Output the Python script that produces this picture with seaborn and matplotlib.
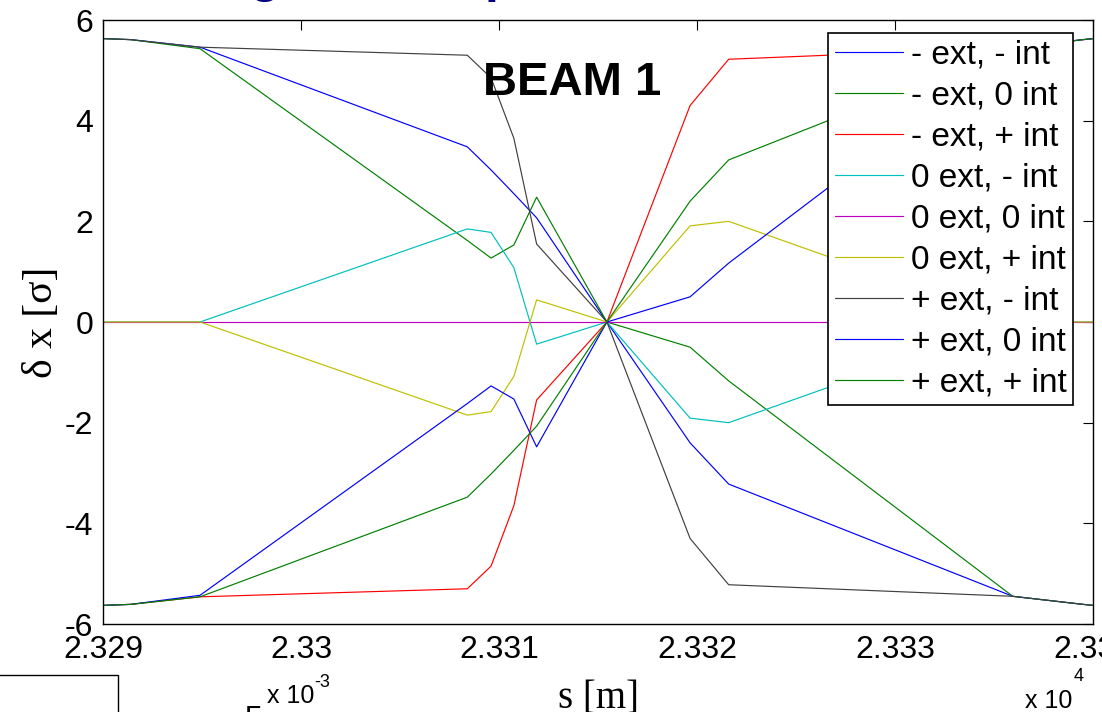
import matplotlib
matplotlib.use("Agg")
import matplotlib.pyplot as plt
from matplotlib.patches import Rectangle
import pandas as pd
import seaborn as sns

# Longitudinal position along the ring [m]
s_m = [23290.0, 23291.4, 23294.9, 23308.4, 23309.6, 23310.75, 23311.9,
       23315.45, 23319.65, 23321.6, 23335.95, 23339.5, 23340.0]

case_labels = ["- ext, - int", "- ext, 0 int", "- ext, + int",
               "0 ext, - int", "0 ext, 0 int", "0 ext, + int",
               "+ ext, - int", "+ ext, 0 int", "+ ext, + int"]

# Orbit offset delta x in units of beam sigma, one list per bump setting
mext_mint = [5.63, 5.61, 5.46, 3.48, 3.02, 2.55, 2.07, 0.0, -2.40, -3.22, -5.45, -5.61, -5.63]
mext_0int = [5.63, 5.61, 5.43, 1.62, 1.27, 1.53, 2.48, 0.0, -0.50, -1.17, -5.45, -5.61, -5.63]
mext_pint = [-5.63, -5.61, -5.46, -5.30, -4.85, -3.65, -1.55, 0.0, 4.30, 5.22, 5.45, 5.61, 5.63]
zext_mint = [0.0, 0.0, 0.0, 1.85, 1.78, 1.08, -0.44, 0.0, -1.91, -2.00, 0.0, 0.0, 0.0]
zext_0int = [0.0, 0.0, 0.0, 0.0, 0.0, 0.0, 0.0, 0.0, 0.0, 0.0, 0.0, 0.0, 0.0]
zext_pint = [0.0, 0.0, 0.0, -1.85, -1.78, -1.08, 0.44, 0.0, 1.91, 2.00, 0.0, 0.0, 0.0]
pext_mint = [5.63, 5.61, 5.46, 5.30, 4.85, 3.65, 1.55, 0.0, -4.30, -5.22, -5.45, -5.61, -5.63]
pext_0int = [-5.63, -5.61, -5.43, -1.62, -1.27, -1.53, -2.48, 0.0, 0.50, 1.17, 5.45, 5.61, 5.63]
pext_pint = [-5.63, -5.61, -5.46, -3.48, -3.02, -2.55, -2.07, 0.0, 2.40, 3.22, 5.45, 5.61, 5.63]

series = [mext_mint, mext_0int, mext_pint, zext_mint, zext_0int, zext_pint,
          pext_mint, pext_0int, pext_pint]

# classic plot colour order
line_colors = [(0, 0, 1), (0, 0.5, 0), (1, 0, 0), (0, 0.75, 0.75), (0.75, 0, 0.75),
               (0.75, 0.75, 0), (0.25, 0.25, 0.25), (0, 0, 1), (0, 0.5, 0)]

x_ticks = [23290, 23300, 23310, 23320, 23330, 23340]
x_tick_labels = ["2.329", "2.33", "2.331", "2.332", "2.333", "2.334"]
y_ticks = [-6, -4, -2, 0, 2, 4, 6]
y_tick_labels = ["-6", "-4", "-2", "0", "2", "4", "6"]

rows = []
for lab, vals in zip(case_labels, series):
    for s, v in zip(s_m, vals):
        rows.append({"s": s, "dx": v, "case": lab})
df = pd.DataFrame(rows)

sns.set_theme(style="white")
plt.rcParams["font.family"] = ["Liberation Sans", "DejaVu Sans"]
plt.rcParams["axes.unicode_minus"] = False
plt.rcParams["text.color"] = "black"

W, H = 1102, 712
fig = plt.figure(figsize=(W / 100, H / 100), dpi=100)
fig.patch.set_facecolor("white")
ax = fig.add_axes([103 / W, 1 - 624 / H, 990 / W, 604 / H])
ax.set_facecolor("white")

sns.lineplot(data=df, x="s", y="dx", hue="case", hue_order=case_labels,
             palette=line_colors, estimator=None, sort=False,
             linewidth=0.85, ax=ax)

ax.set_xlim(23290, 23340)
ax.set_ylim(-6, 6)
ax.set_xticks(x_ticks)
ax.set_xticklabels(x_tick_labels)
ax.set_yticks(y_ticks)
ax.set_yticklabels(y_tick_labels)
ax.tick_params(axis="both", which="both", direction="in", length=7.2, width=0.8,
               top=True, right=True, labelsize=23, colors="black")
ax.tick_params(axis="y", pad=7)
ax.tick_params(axis="x", pad=8)
for sp in ax.spines.values():
    sp.set_color("black")
    sp.set_linewidth(1.0)

ax.set_xlabel("s [m]", family="Liberation Serif", fontsize=28, color="black")
ax.set_ylabel("δ x [σ]", family="Liberation Serif", fontsize=30, color="black")
ax.xaxis.set_label_coords(0.5, -0.092)
ax.yaxis.set_label_coords(-0.042, 0.5)

ax.text(23313.7, 4.74, "BEAM 1", fontsize=34, fontweight="bold",
        ha="center", va="center", color="black")

# x-axis multiplier
fig.text(1025 / W, 1 - 708 / H, "x 10", fontsize=18, ha="left", va="baseline")
fig.text(1074 / W, 1 - 681 / H, "4", fontsize=13, ha="left", va="baseline")

handles, labels = ax.get_legend_handles_labels()
leg = ax.legend(handles, labels, loc="upper right", bbox_to_anchor=(0.98, 0.9785),
                borderaxespad=0, fontsize=24, handlelength=2.05, handletextpad=0.22,
                labelspacing=0.3, borderpad=0.2, frameon=True, fancybox=False,
                framealpha=1, edgecolor="black", labelcolor="black")
leg.get_frame().set_linewidth(1.2)

# neighbouring panel below: frame corner, tick label and exponent
fig.patches.append(Rectangle((-10 / W, -10 / H), 128 / W, (712 - 675 + 10) / H,
                             transform=fig.transFigure, fill=False,
                             edgecolor="black", linewidth=1.0))
fig.text(245 / W, 1 - 728 / H, "5", fontsize=23, ha="left", va="baseline")
fig.text(267 / W, 1 - 703 / H, "x 10", fontsize=18, ha="left", va="baseline")
fig.text(314 / W, 1 - 687 / H, "-3", fontsize=13, ha="left", va="baseline")

# slide heading above the panel
fig.text(265 / W, 1 + 8 / H, "g", fontsize=36, fontweight="bold",
         color="#000080", ha="center", va="baseline")
fig.text(500 / W, 1 + 8 / H, "p", fontsize=36, fontweight="bold",
         color="#000080", ha="center", va="baseline")

fig.savefig("out.png", dpi=100, facecolor="white")
